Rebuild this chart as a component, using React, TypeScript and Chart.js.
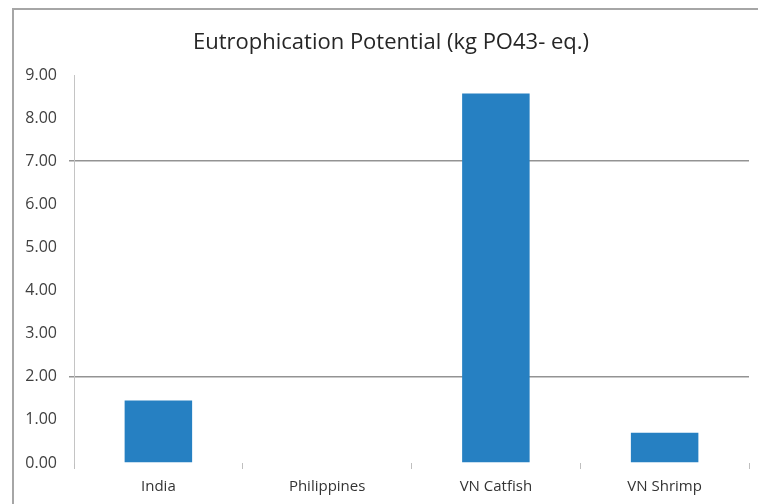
import { useEffect, useRef } from 'react';
import { Chart, registerables } from 'chart.js';

Chart.register(...registerables);

// Eutrophication potential per product, kg PO4(3-) equivalent
const categories = ['India', 'Philippines', 'VN Catfish', 'VN Shrimp'];
const values = [1.45, 0, 8.57, 0.7];
const yMin = 0;
const yMax = 9;
const yStep = 1;
// Only these horizontal gridlines are drawn across the plot
const gridValues = [2, 7];
const titleText = 'Eutrophication Potential (kg PO43- eq.)';

const FONT = "'Open Sans', 'DejaVu Sans', sans-serif";

// White background, the chart frame's left/top edge and the centred title
const framePlugin = {
  id: 'frame',
  beforeDraw(chart: Chart) {
    const { ctx, width, height } = chart;
    ctx.save();
    ctx.fillStyle = '#ffffff';
    ctx.fillRect(0, 0, width, height);
    ctx.strokeStyle = '#a6a6a6';
    ctx.lineWidth = 2;
    ctx.beginPath();
    ctx.moveTo(13, height);
    ctx.lineTo(13, 9);
    ctx.lineTo(width, 9);
    ctx.stroke();
    ctx.fillStyle = '#262626';
    ctx.font = `22px ${FONT}`;
    ctx.textAlign = 'center';
    ctx.textBaseline = 'middle';
    ctx.fillText(titleText, 391, 43);
    ctx.restore();
  },
};

export default function App() {
  const canvasRef = useRef<HTMLCanvasElement | null>(null);

  useEffect(() => {
    const canvas = canvasRef.current;
    if (!canvas) return;
    const chart = new Chart(canvas, {
      type: 'bar',
      data: {
        labels: categories,
        datasets: [
          {
            data: values,
            backgroundColor: '#2680c2',
            barPercentage: 0.4,
            categoryPercentage: 1,
          },
        ],
      },
      options: {
        responsive: false,
        animation: false,
        layout: { padding: { top: 75, right: 9, left: 0, bottom: 0 } },
        plugins: {
          legend: { display: false },
          title: { display: false },
          tooltip: { enabled: false },
        },
        scales: {
          x: {
            afterFit(scale: any) {
              scale.height = 41;
            },
            border: { display: false },
            grid: {
              offset: true,
              drawOnChartArea: false,
              drawTicks: true,
              tickLength: 6,
              color: '#bfbfbf',
              tickColor: '#bfbfbf',
            },
            ticks: {
              padding: 9,
              color: '#333333',
              font: { family: FONT, size: 15 },
            },
          },
          y: {
            min: yMin,
            max: yMax,
            afterFit(scale: any) {
              scale.width = 74;
            },
            border: { display: true, color: '#c4c4c4', width: 1 },
            grid: {
              tickLength: 5,
              lineWidth: 1.5,
              color: (c: any) =>
                gridValues.includes(c.tick?.value) ? '#939393' : 'rgba(0,0,0,0)',
              tickColor: (c: any) =>
                gridValues.includes(c.tick?.value) ? '#939393' : 'rgba(0,0,0,0)',
            },
            ticks: {
              stepSize: yStep,
              padding: 12,
              color: '#404040',
              font: { family: FONT, size: 16 },
              callback: (v: any) => Number(v).toFixed(2),
            },
          },
        },
      },
      plugins: [framePlugin],
    });
    return () => chart.destroy();
  }, []);

  return (
    <div style={{ position: 'absolute', left: 0, top: 0, width: 758, height: 504 }}>
      <canvas ref={canvasRef} width={758} height={504} style={{ display: 'block' }} />
    </div>
  );
}
